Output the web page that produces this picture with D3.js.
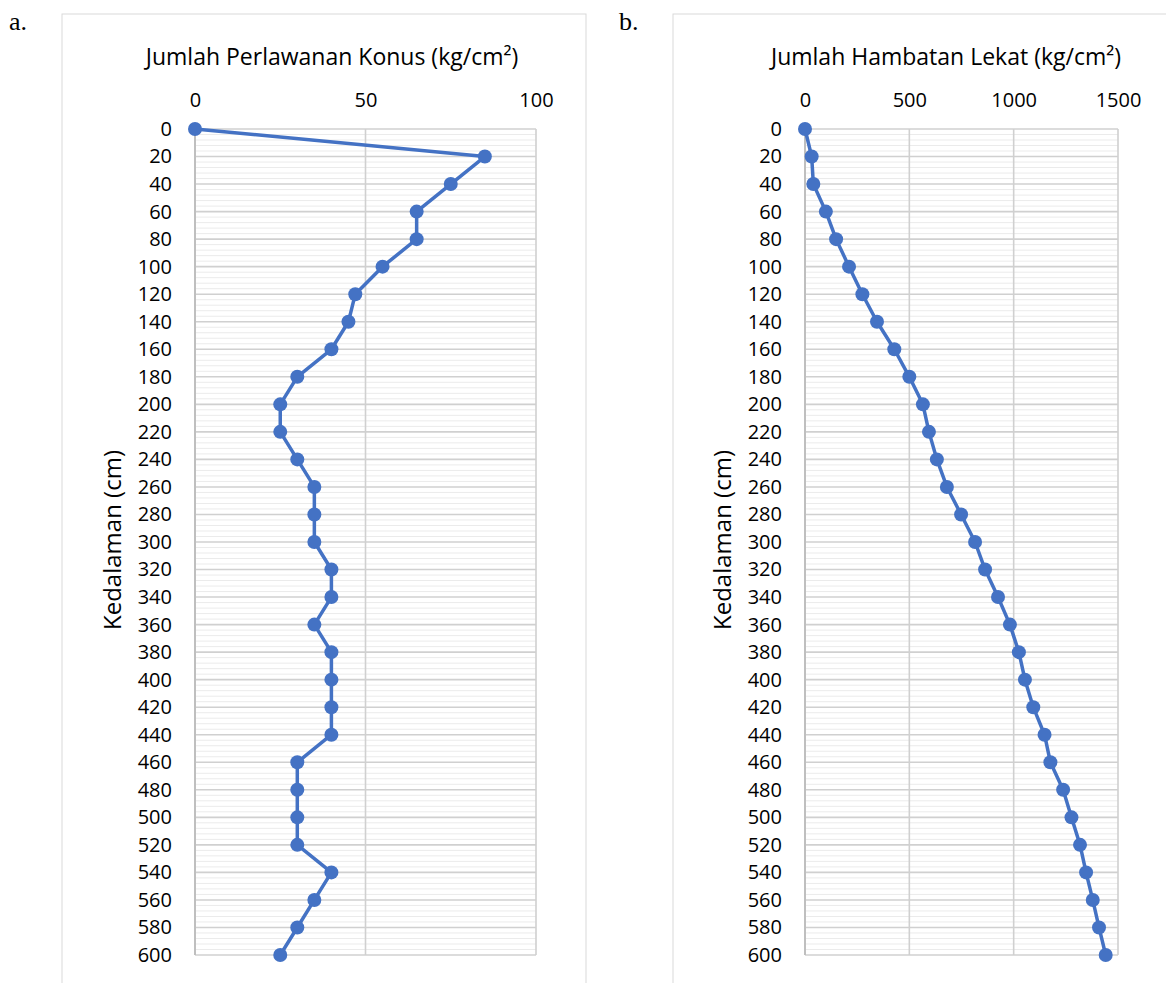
<!DOCTYPE html>
<html>
<head>
<meta charset="utf-8">
<script src="https://cdn.jsdelivr.net/npm/d3@7"></script>
<style>
  body { margin: 0; background: #fff; }
  text { font-family: "Open Sans", Lato, sans-serif; fill: #000; }
</style>
</head>
<body>
<script>
// depth (cm) shared by both profiles
const depth = [0, 20, 40, 60, 80, 100, 120, 140, 160, 180, 200, 220, 240, 260, 280, 300,
               320, 340, 360, 380, 400, 420, 440, 460, 480, 500, 520, 540, 560, 580, 600];

// a. Jumlah Perlawanan Konus (kg/cm2)
const konus = [0, 85, 75, 65, 65, 55, 47, 45, 40, 30, 25, 25, 30, 35, 35, 35,
               40, 40, 35, 40, 40, 40, 40, 30, 30, 30, 30, 40, 35, 30, 25];

// b. Jumlah Hambatan Lekat (kg/cm2)
const hambatan = [0, 32, 40, 100, 149, 211, 275, 345, 428, 500, 565, 594, 632, 680, 748, 815,
                  863, 925, 982, 1025, 1054, 1094, 1148, 1176, 1237, 1277, 1318, 1347, 1379, 1409, 1441];

const konusTicks = [0, 50, 100];
const hambatanTicks = [0, 500, 1000, 1500];
const depthTicks = depth;

const svg = d3.select("body").append("svg")
  .attr("width", 1166).attr("height", 983);

function panel(opt) {
  const g = svg.append("g");

  // chart frame
  g.append("rect")
    .attr("x", opt.frame[0]).attr("y", opt.frame[1])
    .attr("width", opt.frame[2]).attr("height", opt.frame[3])
    .attr("fill", "none").attr("stroke", "#d9d9d9").attr("stroke-width", 1);

  g.append("text")
    .attr("x", opt.letterX).attr("y", 30)
    .style("font-family", "'Liberation Serif', serif")
    .style("font-size", "26px")
    .text(opt.letter);

  const x = d3.scaleLinear().domain(opt.xDomain).range([opt.left, opt.right]);
  const y = d3.scaleLinear().domain([0, 600]).range([129, 955]);

  // minor gridlines every 4 cm
  g.append("g").selectAll("line")
    .data(d3.range(0, 601, 4).filter(v => v % 20 !== 0))
    .join("line")
    .attr("x1", opt.left).attr("x2", opt.right)
    .attr("y1", d => y(d)).attr("y2", d => y(d))
    .attr("stroke", "#ebebeb").attr("stroke-width", 1);

  // major horizontal gridlines
  g.append("g").selectAll("line")
    .data(depthTicks)
    .join("line")
    .attr("x1", opt.left).attr("x2", opt.right)
    .attr("y1", d => y(d)).attr("y2", d => y(d))
    .attr("stroke", "#d0d0d0").attr("stroke-width", 1.6);

  // vertical gridlines
  g.append("g").selectAll("line")
    .data(opt.xTicks.slice(1))
    .join("line")
    .attr("x1", d => x(d)).attr("x2", d => x(d))
    .attr("y1", y(0)).attr("y2", y(600))
    .attr("stroke", "#d0d0d0").attr("stroke-width", 1.6);

  // y axis line
  g.append("line")
    .attr("x1", opt.left).attr("x2", opt.left)
    .attr("y1", y(0)).attr("y2", y(600))
    .attr("stroke", "#bfbfbf").attr("stroke-width", 2);

  // x axis labels (top)
  const xAxis = g.append("g")
    .attr("transform", "translate(0,107)")
    .call(d3.axisTop(x).tickValues(opt.xTicks).tickSize(0).tickPadding(0).tickFormat(d3.format("d")));
  xAxis.select(".domain").remove();
  xAxis.selectAll("text").style("font-size", "20px").attr("fill", "#000");

  // y axis labels
  const yAxis = g.append("g")
    .attr("transform", "translate(" + (opt.left - 23) + ",0)")
    .call(d3.axisLeft(y).tickValues(depthTicks).tickSize(0).tickPadding(0));
  yAxis.select(".domain").remove();
  yAxis.selectAll("text").style("font-size", "20px").attr("fill", "#000");

  // titles
  g.append("text")
    .attr("x", opt.titleX).attr("y", 65)
    .attr("text-anchor", "middle")
    .style("font-size", "23px")
    .text(opt.title);

  g.append("text")
    .attr("transform", "translate(" + (opt.left - 74) + ",540) rotate(-90)")
    .attr("text-anchor", "middle")
    .style("font-size", "24px")
    .text("Kedalaman (cm)");

  // series
  const pts = depth.map((d, i) => [opt.values[i], d]);
  g.append("path")
    .datum(pts)
    .attr("fill", "none")
    .attr("stroke", "#4472c4")
    .attr("stroke-width", 3.5)
    .attr("stroke-linejoin", "round")
    .attr("d", d3.line().x(d => x(d[0])).y(d => y(d[1])));

  g.append("g").selectAll("circle")
    .data(pts)
    .join("circle")
    .attr("cx", d => x(d[0]))
    .attr("cy", d => y(d[1]))
    .attr("r", 7)
    .attr("fill", "#4472c4");
}

panel({
  frame: [62, 14, 524, 1000],
  letter: "a.", letterX: 9,
  xDomain: [0, 100], left: 195, right: 536,
  xTicks: konusTicks,
  title: "Jumlah Perlawanan Konus (kg/cm²)", titleX: 332,
  values: konus
});

panel({
  frame: [673, 14, 520, 1000],
  letter: "b.", letterX: 619,
  xDomain: [0, 1500], left: 805, right: 1118,
  xTicks: hambatanTicks,
  title: "Jumlah Hambatan Lekat (kg/cm²)", titleX: 946,
  values: hambatan
});
</script>
</body>
</html>
